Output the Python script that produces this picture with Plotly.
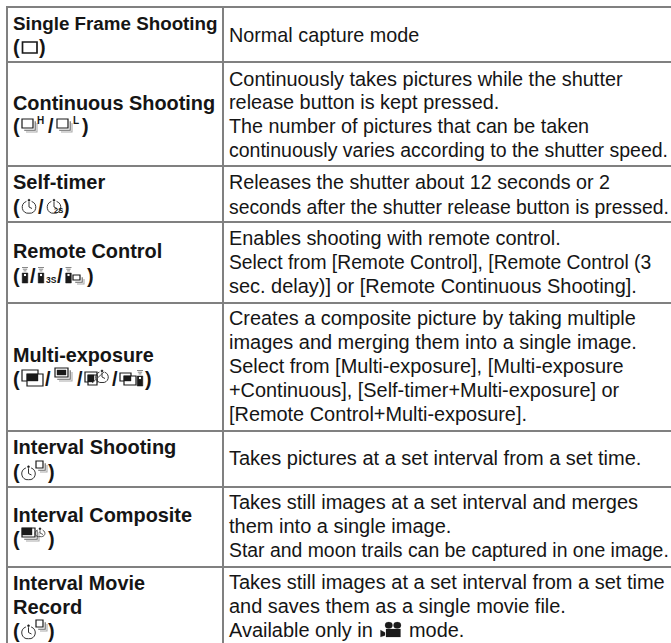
import plotly.graph_objects as go

FONT = "Liberation Sans"
W, H = 671, 643

row_edges = [7, 62, 166, 222, 303, 431, 487, 567]
col_edges = [7, 223]
label_lines = [
    ["Single Frame Shooting"],
    ["Continuous Shooting"],
    ["Self-timer"],
    ["Remote Control"],
    ["Multi-exposure"],
    ["Interval Shooting"],
    ["Interval Composite"],
    ["Interval Movie", "Record"],
]
label_sizes = [[18.8], [19.9], [20.0], [19.9], [19.8], [20.0], [19.9], [19.8, 20.1]]
label_y = [[23], [102.5], [182], [251], [355], [447], [515], [583, 607]]
icon_y = [47, 126, 207, 276, 379, 472, 539, 631]
desc_lines = [
    ["Normal capture mode"],
    ["Continuously takes pictures while the shutter", "release button is kept pressed.",
     "The number of pictures that can be taken", "continuously varies according to the shutter speed."],
    ["Releases the shutter about 12 seconds or 2", "seconds after the shutter release button is pressed."],
    ["Enables shooting with remote control.", "Select from [Remote Control], [Remote Control (3",
     "sec. delay)] or [Remote Continuous Shooting]."],
    ["Creates a composite picture by taking multiple", "images and merging them into a single image.",
     "Select from [Multi-exposure], [Multi-exposure", "+Continuous], [Self-timer+Multi-exposure] or",
     "[Remote Control+Multi-exposure]."],
    ["Takes pictures at a set interval from a set time."],
    ["Takes still images at a set interval and merges", "them into a single image.",
     "Star and moon trails can be captured in one image."],
    ["Takes still images at a set interval from a set time", "and saves them as a single movie file.",
     "Available only in"],
]
desc_sizes = [
    [19.8], [19.9, 19.85, 19.75, 19.5], [19.7, 19.35], [19.9, 19.3, 19.95],
    [19.9, 19.95, 19.9, 19.9, 19.9], [20.0], [20.0, 20.0, 19.4], [20.0, 19.95, 19.95],
]
desc_y = [
    [34.5], [78.5, 102, 126, 150], [182, 207], [238, 262, 286], [318, 342, 366, 390, 414],
    [458], [502, 526, 550], [582, 606, 630],
]

shapes, ann = [], []
LINE = "#808080"
INK = "#1a1a1a"
TXT = "#151515"

def text(x, y, s, bold=False, size=19.9, color=TXT):
    ann.append(dict(x=x, y=y, xref="x", yref="y", text=("<b>%s</b>" % s) if bold else s,
                    showarrow=False, xanchor="left", yanchor="middle",
                    font=dict(family=FONT, size=size, color=color), borderpad=0, borderwidth=0))

def rect(x0, y0, x1, y1, fill="white", line=INK, w=1.2):
    shapes.append(dict(type="rect", xref="x", yref="y", x0=x0, y0=y0, x1=x1, y1=y1,
                       fillcolor=fill, line=dict(color=line, width=w), layer="above"))

def circ(x0, y0, x1, y1, fill="rgba(0,0,0,0)", line=INK, w=1.0):
    shapes.append(dict(type="circle", xref="x", yref="y", x0=x0, y0=y0, x1=x1, y1=y1,
                       fillcolor=fill, line=dict(color=line, width=w), layer="above"))

def path(d, fill="rgba(0,0,0,0)", line=INK, w=1.0):
    shapes.append(dict(type="path", xref="x", yref="y", path=d, fillcolor=fill,
                       line=dict(color=line, width=w), layer="above"))

def stack(x, y, w=11, h=8):
    for o, g in ((4, "#aaaaaa"), (2.2, "#666666")):
        path(f"M{x+w+o},{y+o} V{y+h+o} H{x+o}", line=g, w=1.1)
    rect(x, y, x + w, y + h)

def timer(x, y, r=6.2, w=1.0):
    path(f"M{x-2.6},{y-r+0.6} C{x-r-3.4},{y-r+3} {x-r-1},{y+r+1} {x},{y+r} "
         f"C{x+r+1},{y+r+1} {x+r+3.4},{y-r+3} {x+2.6},{y-r+0.6}", w=w, line="#333333")
    circ(x - 1, y - r - 1.6, x + 1, y - r + 0.4, fill=INK, w=0.5)
    path(f"M{x},{y-r+1} L{x},{y} L{x+3},{y+1.5}", w=w, line="#333333")

def remote(x, y):
    for i, hw in enumerate((3, 2.2, 1.4)):
        path(f"M{x-hw},{y-8.5+i*1.7} H{x+hw}", w=0.7, line="#555555")
    rect(x - 2.8, y - 3, x + 2.8, y + 7, fill=INK, w=0.5)
    rect(x - 1, y - 2, x + 1, y, fill="white", line="white", w=0.1)

def pieces(y, items):
    for x, s in items:
        text(x, y, s, bold=True)

# ---------- table frame ----------
for y in row_edges:
    shapes.append(dict(type="line", xref="x", yref="y", x0=6, x1=W, y0=y, y1=y,
                       line=dict(color=LINE, width=2)))
for x in col_edges:
    shapes.append(dict(type="line", xref="x", yref="y", x0=x, x1=x, y0=6, y1=H,
                       line=dict(color=LINE, width=2)))

# ---------- text ----------
for lines, ys, ss in zip(label_lines, label_y, label_sizes):
    for s, y, z in zip(lines, ys, ss):
        text(13, y, s, bold=True, size=z)
for lines, ys, ss in zip(desc_lines, desc_y, desc_sizes):
    for s, y, z in zip(lines, ys, ss):
        text(228.5, y, s, size=z)

# ---------- icons ----------
# Row 1
y = icon_y[0]
pieces(y, [(13, "("), (39, ")")])
rect(22.5, y - 5, 37, y + 6, w=1.7)
# Row 2
y = icon_y[1]
pieces(y, [(13, "("), (48, "/"), (82, ")")])
stack(22, y - 7, w=11, h=9)
text(36.5, y - 6, "H", bold=True, size=10)
stack(57, y - 7, w=11, h=9)
text(72.5, y - 6, "L", bold=True, size=10)
# Row 3
y = icon_y[2]
pieces(y, [(13, "("), (37.5, "/"), (63, ")")])
timer(29, y)
timer(54, y)
text(54, y + 3.5, "2S", bold=True, size=7.5)
# Row 4
y = icon_y[3]
pieces(y, [(13, "("), (29.5, "/"), (57, "/"), (87, ")")])
remote(25, y)
remote(41, y)
text(45.5, y + 4, "3S", bold=True, size=8.5)
remote(68.5, y)
stack(73, y - 1, w=7, h=5)
# Row 5
y = icon_y[4]
pieces(y, [(13, "("), (45, "/"), (77, "/"), (112, "/"), (145, ")")])
rect(22, y - 9, 38, y + 2)
rect(27, y - 5, 43, y + 7)
rect(27, y - 5, 38, y + 2, fill=INK, w=0.4)
stack(55, y - 11, w=13, h=9)
rect(57, y - 9, 66, y - 4, fill=INK, w=0.4)
rect(85, y - 7, 97, y + 3)
rect(88, y - 4, 97, y + 6)
rect(88, y - 4, 94, y + 3, fill=INK, w=0.4)
timer(102, y - 2, r=5.5)
path(f"M92,{y+4} L104,{y-7}", line="#555555", w=1)
rect(120, y - 6, 131, y + 2)
rect(124, y - 3, 136, y + 6)
rect(124, y - 3, 131, y + 2, fill=INK, w=0.4)
remote(140, y)
# Row 6 + 8
for y in (icon_y[5], icon_y[7]):
    pieces(y, [(13, "("), (48, ")")])
    timer(28.5, y + 1.5)
    stack(36, y - 11, w=7, h=7)
# Row 7
y = icon_y[6]
pieces(y, [(13, "("), (48, ")")])
stack(22, y - 11, w=13, h=9)
rect(22, y - 11, 32, y - 4, fill=INK, w=0.4)
timer(40, y - 6, r=3.6, w=0.8)

# movie camera glyph and trailing word
y = desc_y[7][2]
circ(385, y - 8, 392.5, y - 1.5, fill=INK, line=INK, w=0.2)
circ(393.5, y - 8, 401, y - 1.5, fill=INK, line=INK, w=0.2)
rect(386, y - 1, 400.5, y + 7, fill=INK, w=0.2)
path(f"M380.5,{y} L385,{y+2.5} L385,{y+5.5} L380.5,{y+7} Z", fill=INK, w=0.2)
text(408.5, y, "mode.", size=19.9)

fig = go.Figure()
fig.update_layout(
    width=W, height=H, margin=dict(l=0, r=0, t=0, b=0),
    paper_bgcolor="white", plot_bgcolor="white", showlegend=False,
    xaxis=dict(range=[0, W], visible=False, fixedrange=True),
    yaxis=dict(range=[H, 0], visible=False, fixedrange=True),
    shapes=shapes, annotations=ann,
)
fig.write_html("out.html", config=dict(displayModeBar=False),
               post_script="document.body.style.margin='0';document.documentElement.style.overflow='hidden';")
